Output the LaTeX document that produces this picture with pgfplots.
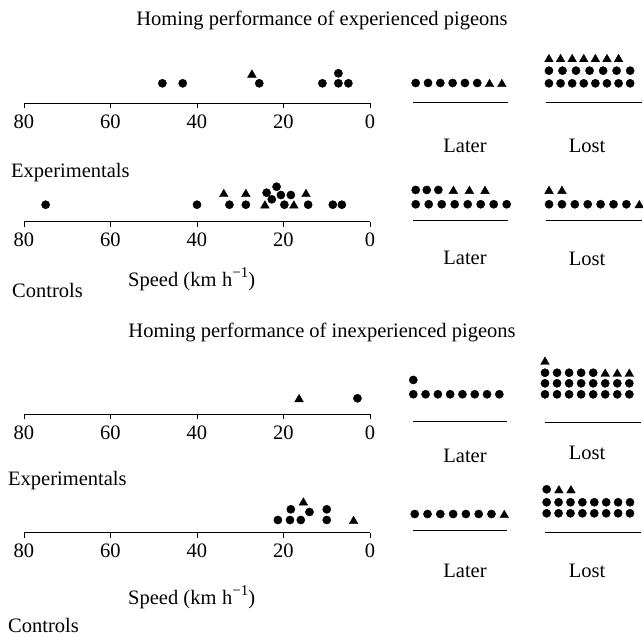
\documentclass[border=0pt]{standalone}
\usepackage{fontspec}
\setmainfont{Liberation Serif}
\usepackage{pgfplots}
\pgfplotsset{compat=1.18}
\newcommand\F{\fontsize{20.5bp}{24bp}\selectfont}
\pgfplotsset{
  dot/.style={only marks, mark=*, mark size=4.1bp, black, mark options={fill=black, draw=black}},
  tri/.style={only marks, mark=triangle*, mark size=5bp, black, mark options={fill=black, draw=black}},
  sc/.style={scale only axis, width=346bp, height=40bp, xmin=0, xmax=80, ymin=0, ymax=40,
    x dir=reverse, axis x line*=bottom, axis y line=none, xtick={0,20,40,60,80}, ytick=\empty,
    tick align=outside, major tick length=5bp, clip=false, anchor=south west,
    axis line style={line width=0.8bp, black, -}, tick style={line width=0.8bp, black},
    xticklabel style={anchor=base, yshift=-20bp, inner sep=0pt},
    /pgf/number format/assume math mode=true, tick label style={font=\F}},
  grp/.style={scale only axis, axis x line*=bottom, axis y line=none, xtick=\empty, ytick=\empty,
    clip=false, anchor=south west, axis line style={line width=0.9bp, black, -}},
}
\newcommand\speed{Speed (km\;h\raisebox{0.42em}{\fontsize{15bp}{18bp}\selectfont −1})}
\begin{document}
\begin{tikzpicture}[every node/.style={font=\F, inner sep=0pt}]
\path[use as bounding box] (0,0) rectangle (643bp,-636bp);
% ---------- experienced ----------
\node[anchor=base] at (322bp,-25bp) {Homing performance of experienced pigeons};
\begin{axis}[sc, at={(24bp,-103.3bp)}]
\addplot[dot] coordinates {(48,20) (43.3,20) (25.6,20) (11,20) (7.3,20) (7.3,30) (5,20)};
\addplot[tri] coordinates {(27.3,28.5)};
\end{axis}
\begin{axis}[grp, at={(413bp,-102bp)}, width=95bp, height=50.5bp, xmin=-0.22, xmax=7.5, ymin=-1.51, ymax=2.5]
\addplot[dot] coordinates {(0,0) (1,0) (2,0) (3,0) (4,0) (5,0)};
\addplot[tri] coordinates {(6,-0.1) (7,-0.1)};
\end{axis}
\begin{axis}[grp, at={(545.7bp,-102.3bp)}, width=96.3bp, height=50.6bp, xmin=-0.28, xmax=8.02, ymin=-1.5, ymax=2.5]
\addplot[dot] coordinates {(0,0) (1,0) (2,0) (3,0) (4,0) (5,0) (6,0) (7,0)
  (0,1) (1.17,1) (2.33,1) (3.5,1) (4.67,1) (5.83,1) (7,1)};
\addplot[tri] coordinates {(0,1.9) (1,1.9) (2,1.9) (3,1.9) (4,1.9) (5,1.9) (6,1.9)};
\end{axis}
\node[anchor=base] at (465bp,-152bp) {Later};
\node[anchor=base] at (587bp,-152bp) {Lost};
\node[anchor=base west] at (11bp,-177bp) {Experimentals};
\begin{axis}[sc, at={(24bp,-221.7bp)}]
\addplot[dot] coordinates {(75,17) (40,17) (32.5,17) (28.7,17) (23.9,29) (22.7,22.4) (21.6,35)
  (20.6,26.7) (19.8,17) (18.3,26.7) (14.3,17) (8.6,17) (6.5,17)};
\addplot[tri] coordinates {(33.8,27.5) (28.7,27.5) (24.3,16) (17.6,16) (14.8,27.5)};
\end{axis}
\begin{axis}[grp, at={(413bp,-220.7bp)}, width=95bp, height=37.9bp, xmin=-0.21, xmax=7.1, ymin=-1.15, ymax=1.5]
\addplot[dot] coordinates {(0,0) (1,0) (2,0) (3,0) (4,0) (5,0) (6,0) (7,0) (0,1) (0.85,1) (1.74,1)};
\addplot[tri] coordinates {(2.9,0.92) (4.13,0.92) (5.33,0.92)};
\end{axis}
\begin{axis}[grp, at={(545.7bp,-220.7bp)}, width=96.3bp, height=37.9bp, xmin=-0.26, xmax=7.21, ymin=-1.15, ymax=1.5]
\addplot[dot] coordinates {(0,0) (1,0) (2,0) (3,0) (4,0) (5,0) (6,0)};
\addplot[tri] coordinates {(7,-0.08) (0,0.92) (1,0.92)};
\end{axis}
\node[anchor=base] at (465bp,-264bp) {Later};
\node[anchor=base] at (587bp,-265bp) {Lost};
\node[anchor=base west] at (128bp,-286bp) {\speed};
\node[anchor=base west] at (12bp,-297bp) {Controls};
% ---------- inexperienced ----------
\node[anchor=base] at (322bp,-337bp) {Homing performance of inexperienced pigeons};
\begin{axis}[sc, at={(24bp,-414.3bp)}]
\addplot[dot] coordinates {(2.9,16)};
\addplot[tri] coordinates {(16.4,15)};
\end{axis}
\begin{axis}[grp, at={(413.3bp,-421bp)}, width=93.4bp, height=48.2bp, xmin=0, xmax=7.6, ymin=-1.87, ymax=1.5]
\addplot[dot] coordinates {(0,0) (1,0) (2,0) (3,0) (4,0) (5,0) (6,0) (7,0) (0,1)};
\end{axis}
\begin{axis}[grp, at={(545bp,-422.7bp)}, width=96bp, height=66.9bp, xmin=0, xmax=7.97, ymin=-2.58, ymax=3.5]
\addplot[dot] coordinates {(0,0) (1,0) (2,0) (3,0) (4,0) (5,0) (6,0) (7,0)
  (0,1) (1,1) (2,1) (3,1) (4,1) (5,1) (6,1) (7,1)
  (0,1.96) (1,1.96) (2,1.96) (3,1.96) (4,1.96)};
\addplot[tri] coordinates {(5,1.85) (6,1.85) (7,1.85) (0,2.94)};
\end{axis}
\node[anchor=base] at (465bp,-462bp) {Later};
\node[anchor=base] at (587bp,-459bp) {Lost};
\node[anchor=base west] at (8bp,-485bp) {Experimentals};
\begin{axis}[sc, at={(24bp,-532.7bp)}]
\addplot[dot] coordinates {(21.3,12.7) (18.5,12.7) (16,12.7) (10,12.7) (18.3,23.4) (14,20.7) (10,23.4)};
\addplot[tri] coordinates {(3.8,11.5) (15.4,30)};
\end{axis}
\begin{axis}[grp, at={(412.7bp,-530.7bp)}, width=94bp, height=28.7bp, xmin=-0.16, xmax=7.19, ymin=-1.39, ymax=1]
\addplot[dot] coordinates {(0,0) (1,0) (2,0) (3,0) (4,0) (5,0) (6,0)};
\addplot[tri] coordinates {(7,-0.1)};
\end{axis}
\begin{axis}[grp, at={(545bp,-532bp)}, width=95.7bp, height=52.3bp, xmin=-0.14, xmax=7.9, ymin=-1.56, ymax=2.8]
\addplot[dot] coordinates {(0,0) (1,0) (2,0) (3,0) (4,0) (5,0) (6,0) (7,0)
  (0,0.92) (1,0.92) (2,0.92) (3,0.92) (4,0.92) (5,0.92) (6,0.92) (7,0.92) (0,2)};
\addplot[tri] coordinates {(1.03,1.9) (2.04,1.9)};
\end{axis}
\node[anchor=base] at (465bp,-577bp) {Later};
\node[anchor=base] at (587bp,-577bp) {Lost};
\node[anchor=base west] at (128bp,-604bp) {\speed};
\node[anchor=base west] at (8bp,-632bp) {Controls};
\end{tikzpicture}
\end{document}
